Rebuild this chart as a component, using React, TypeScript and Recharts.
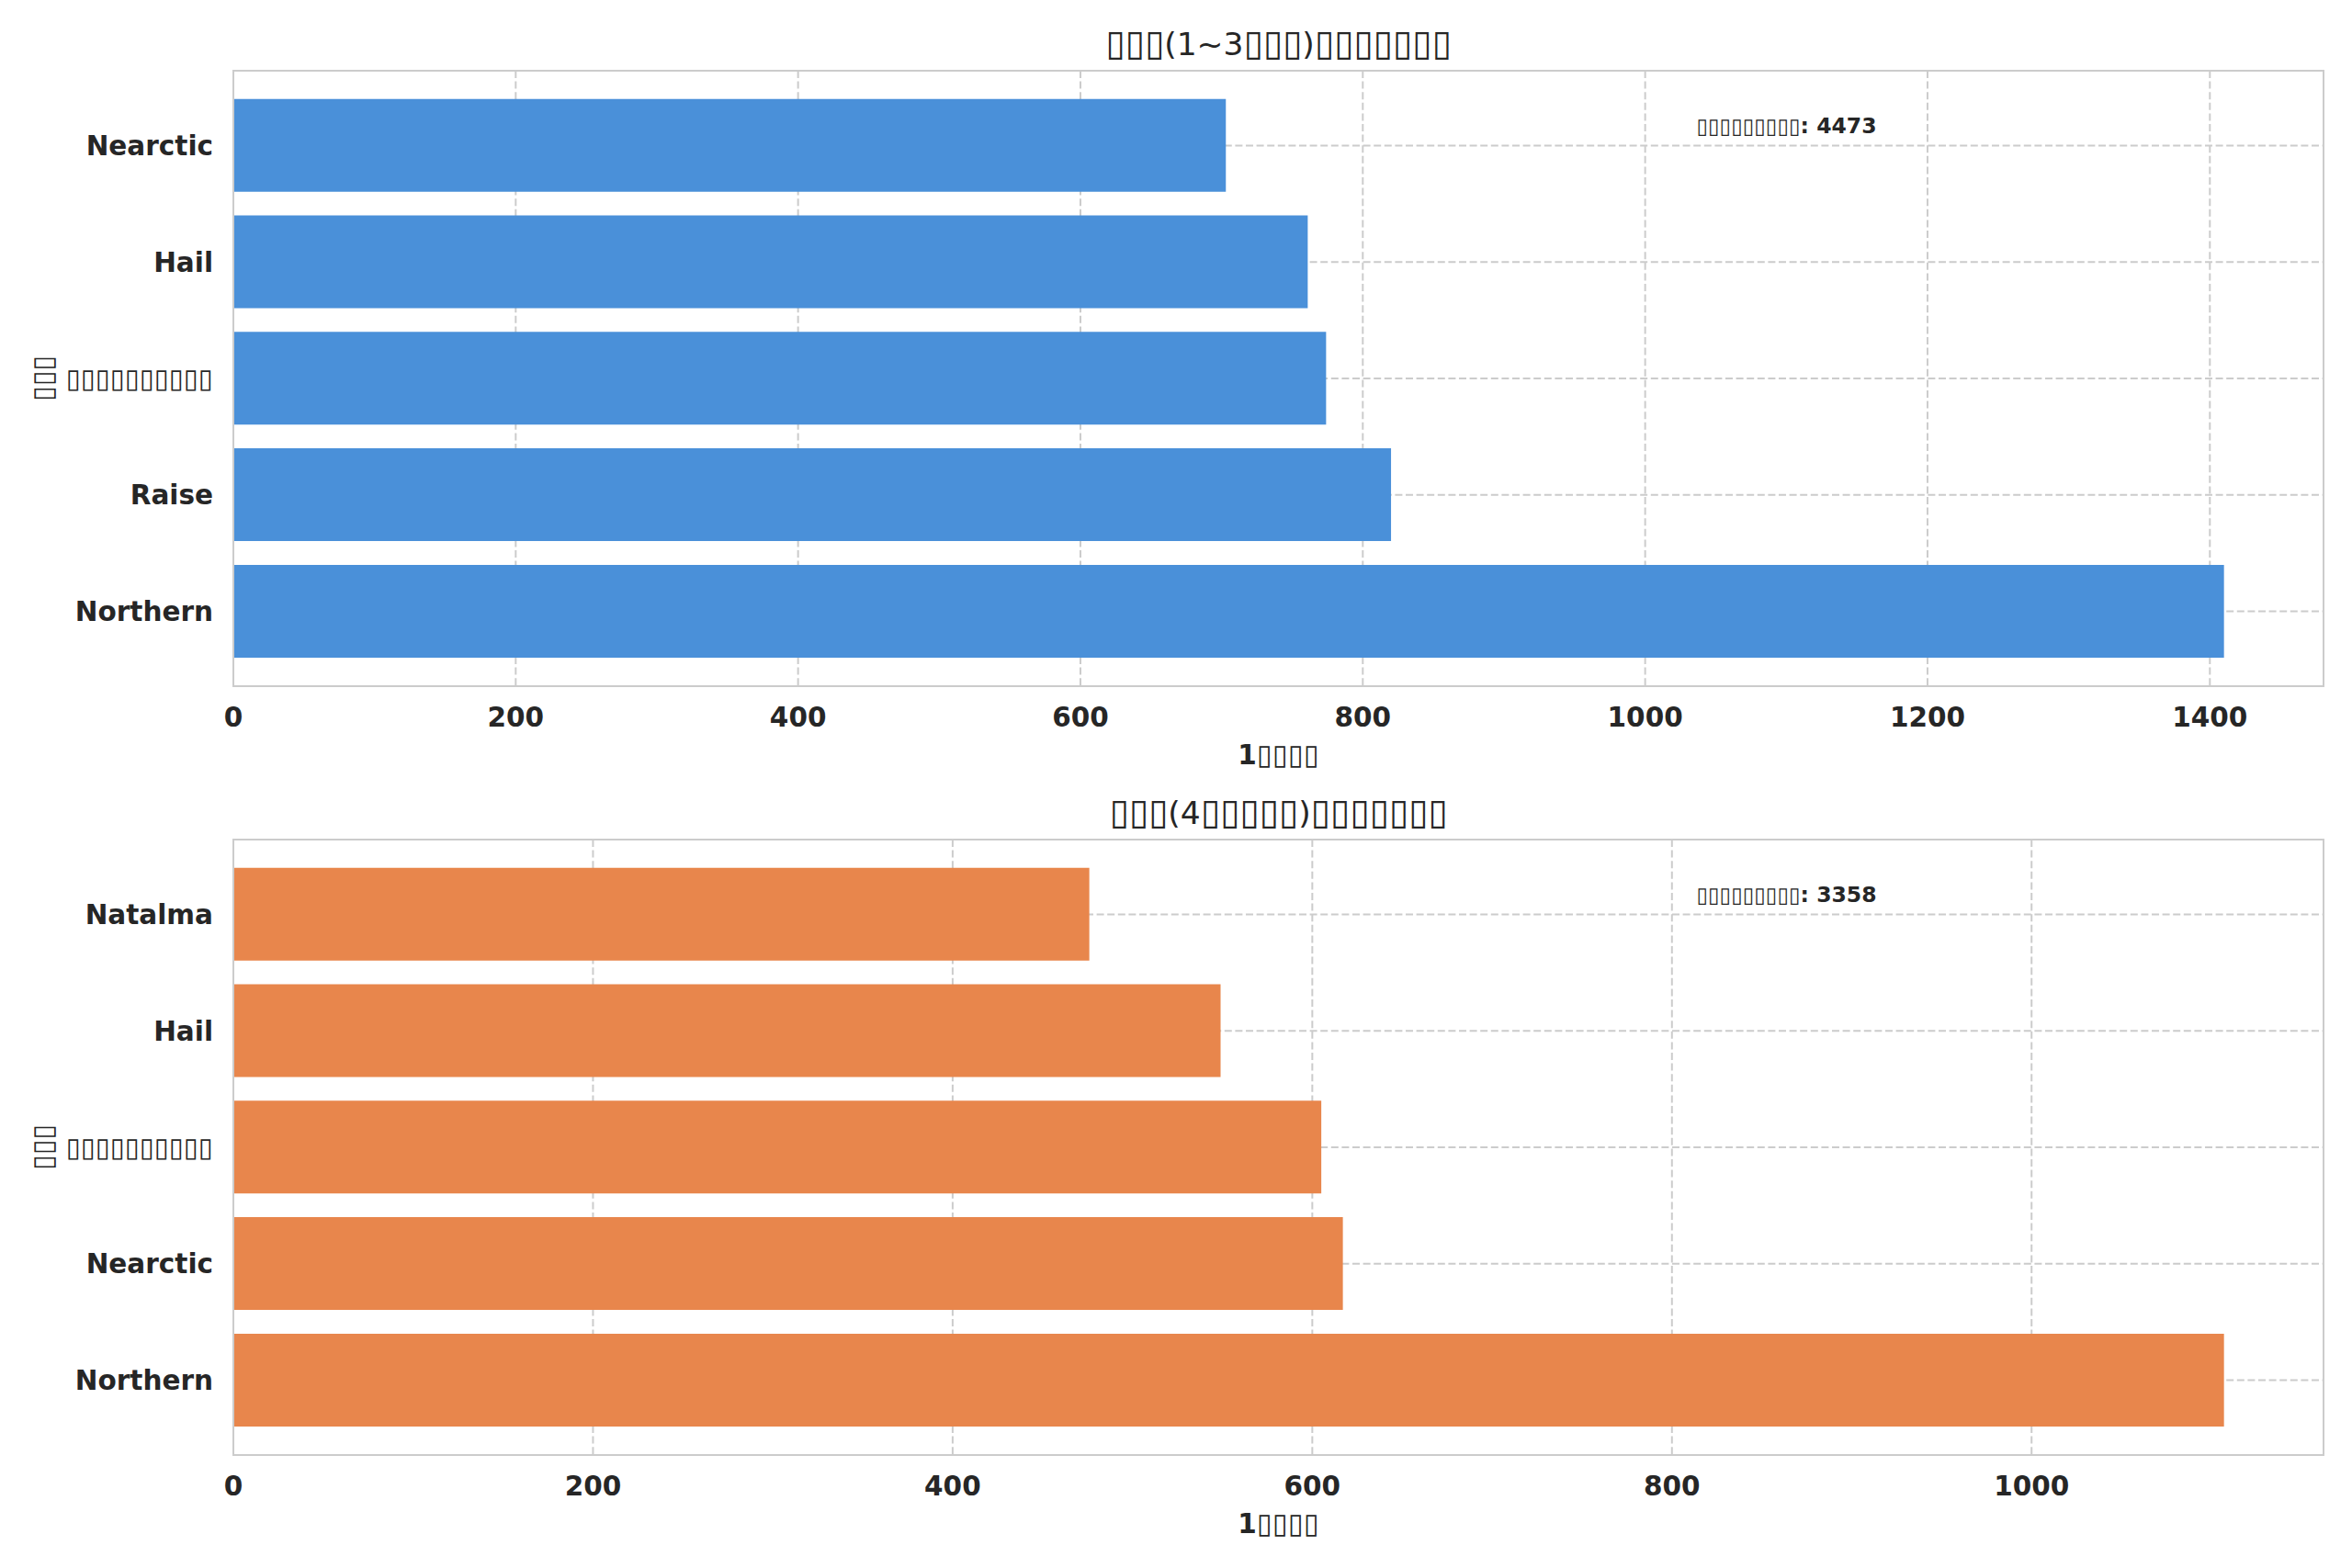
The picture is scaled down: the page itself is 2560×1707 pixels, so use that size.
import { Bar, BarChart, CartesianGrid, XAxis, YAxis } from "recharts"

// glyphs that did not render in the source picture are shown as boxes
const BOX = "\u25AF"
const box = (n: number) => BOX.repeat(n)

const topTitle = `${box(3)}(1~3${box(3)})${box(7)}`
const bottomTitle = `${box(3)}(4${box(5)})${box(7)}`
const xLabel = `1${box(4)}`
const yLabel = box(3)
const totalLabel = box(9)

const topSires = ["Nearctic", "Hail", box(10), "Raise", "Northern"]
const topCounts = [703, 761, 774, 820, 1410]
const topTicks = [0, 200, 400, 600, 800, 1000, 1200, 1400]
const topTotal = 4473

const bottomSires = ["Natalma", "Hail", box(10), "Nearctic", "Northern"]
const bottomCounts = [476, 549, 605, 617, 1107]
const bottomTicks = [0, 200, 400, 600, 800, 1000]
const bottomTotal = 3358

const TEXT = "#262626"
const GRID = "#cccccc"
const FONT = "'DejaVu Sans', sans-serif"
const GLYPH_ADV = 0.543 // advance of the box glyph, in em

type TextStyle = { bold: boolean; adv: number }

function runs(text: string, s: TextStyle) {
  return text
    .split(/(\u25AF+)/)
    .filter(Boolean)
    .map((part, i) =>
      part.startsWith(BOX) ? (
        <tspan key={i} fontWeight={400} fontSize={s.adv / GLYPH_ADV}>
          {part}
        </tspan>
      ) : (
        <tspan key={i} fontWeight={s.bold ? 700 : 400}>
          {part}
        </tspan>
      )
    )
}

const tickBoxes: TextStyle = { bold: true, adv: 15.8 }

const XTick = (props: any) => {
  const { x, y, payload } = props
  return (
    <text x={x} y={y} dy="0.71em" textAnchor="middle" fill={TEXT} fontSize={29.5} fontWeight={700} fontFamily={FONT}>
      {payload.value}
    </text>
  )
}

const YTick = (props: any) => {
  const { x, y, payload } = props
  return (
    <text x={x} y={y} dy="0.355em" textAnchor="end" fill={TEXT} fontSize={29.5} fontFamily={FONT}>
      {runs(String(payload.value), tickBoxes)}
    </text>
  )
}

type PanelProps = {
  top: number
  title: string
  sires: string[]
  counts: number[]
  ticks: number[]
  total: number
  color: string
}

const W = 2560
const H = 850
const PLOT_LEFT = 254
const PLOT_RIGHT = 2529
const PLOT_TOP = 77
const PLOT_BOTTOM = 747

function Panel({ top, title, sires, counts, ticks, total, color }: PanelProps) {
  const data = sires.map((name, i) => ({ name, count: counts[i] }))
  const maxX = Math.max(...counts) * 1.05
  return (
    <div style={{ position: "absolute", left: 0, top, width: W, height: H }}>
      <BarChart
        width={W}
        height={H}
        data={data}
        layout="vertical"
        barCategoryGap="10%"
        margin={{ top: PLOT_TOP, right: W - PLOT_RIGHT, bottom: H - PLOT_BOTTOM - 100, left: 0 }}
      >
        <CartesianGrid stroke={GRID} strokeWidth={2} strokeDasharray="8 3.6" />
        <XAxis
          type="number"
          dataKey="count"
          domain={[0, maxX]}
          ticks={ticks}
          height={100}
          tickSize={0}
          tickMargin={23}
          axisLine={false}
          tickLine={false}
          tick={<XTick />}
          label={{
            content: (p: any) => {
              const vb = p.viewBox
              return (
                <text
                  x={vb.x + vb.width / 2}
                  y={vb.y + 84.5}
                  textAnchor="middle"
                  fill={TEXT}
                  fontSize={29.5}
                  fontFamily={FONT}
                >
                  {runs(xLabel, { bold: true, adv: 16.8 })}
                </text>
              )
            },
          }}
        />
        <YAxis
          type="category"
          dataKey="name"
          width={PLOT_LEFT}
          padding={{ top: 18, bottom: 18 }}
          tickSize={0}
          tickMargin={22}
          axisLine={false}
          tickLine={false}
          tick={<YTick />}
          interval={0}
          label={{
            content: (p: any) => {
              const vb = p.viewBox
              const cy = vb.y + vb.height / 2
              return (
                <text
                  x={0}
                  y={0}
                  textAnchor="middle"
                  transform={`translate(57 ${cy}) rotate(-90)`}
                  fill={TEXT}
                  fontSize={29.5}
                  fontFamily={FONT}
                >
                  {runs(yLabel, { bold: true, adv: 16.5 })}
                </text>
              )
            },
          }}
        />
        <Bar dataKey="count" fill={color} isAnimationActive={false} />
      </BarChart>
      <svg
        width={W}
        height={H}
        style={{ position: "absolute", left: 0, top: 0, pointerEvents: "none" }}
        fontFamily={FONT}
      >
        <rect
          x={PLOT_LEFT}
          y={PLOT_TOP}
          width={PLOT_RIGHT - PLOT_LEFT}
          height={PLOT_BOTTOM - PLOT_TOP}
          fill="none"
          stroke={GRID}
          strokeWidth={2}
        />
        <text x={(PLOT_LEFT + PLOT_RIGHT) / 2} y={60} textAnchor="middle" fill={TEXT} fontSize={34.5}>
          {runs(title, { bold: false, adv: 21 })}
        </text>
        <text x={PLOT_LEFT + 0.7 * (PLOT_RIGHT - PLOT_LEFT)} y={145} fill={TEXT} fontSize={23.5}>
          {runs(`${totalLabel}: ${total}`, { bold: true, adv: 12.4 })}
        </text>
      </svg>
    </div>
  )
}

export default function App() {
  return (
    <div style={{ position: "absolute", left: 0, top: 0, width: W, height: 1707, background: "#ffffff" }}>
      <Panel top={0} title={topTitle} sires={topSires} counts={topCounts} ticks={topTicks} total={topTotal} color="#4a90d9" />
      <Panel
        top={837}
        title={bottomTitle}
        sires={bottomSires}
        counts={bottomCounts}
        ticks={bottomTicks}
        total={bottomTotal}
        color="#e8864c"
      />
    </div>
  )
}
